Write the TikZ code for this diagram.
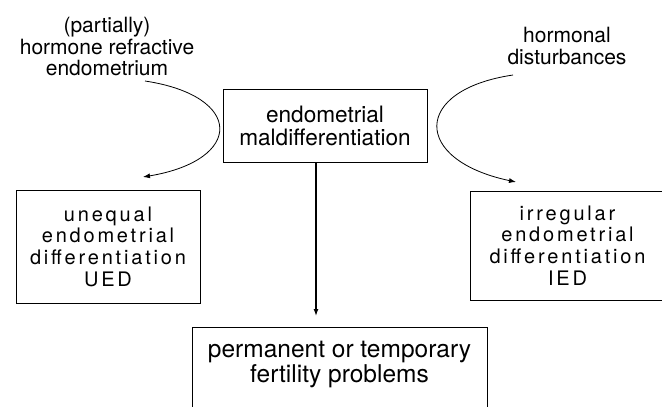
\documentclass[tikz,border=0pt]{standalone}
\usepackage{fontspec}
\setmainfont{TeX Gyre Heros}
\newfontfamily\widefont[LetterSpace=14]{TeX Gyre Heros}
\usetikzlibrary{arrows.meta}
\begin{document}
\begin{tikzpicture}
  [x=1pt, y=-1pt]
  \tikzstyle{box} = [draw=black, line width=0.8pt, align=center, inner sep=0pt];
  \tikzstyle{top_text} = [align=center, font=\fontsize{21}{21.5}\selectfont];
  \tikzstyle{wide_box} = [box, font=\fontsize{20}{21.7}\widefont];
  \tikzstyle{arrow} = [-{Latex[length=7pt,width=5pt]}, line width=0.8pt];

  \useasboundingbox (0,0) rectangle (662,407);

  \node[top_text] (refr) at (107, 47) {(partially)\\hormone refractive\\endometrium};
  \node[top_text] (horm) at (567, 46) {hormonal\\disturbances};

  \node[box, minimum width=204, minimum height=73, font=\fontsize{22.6}{23}\selectfont]
    (mdiff) at (325, 125.5) {endometrial\\maldifferentiation};

  \node[wide_box, minimum width=184, minimum height=113]
    (ued) at (108, 246.5) {unequal\\endometrial\\differentiation\\UED};
  \node[wide_box, minimum width=195, minimum height=109]
    (ied) at (567.5, 245.5) {irregular\\endometrial\\differentiation\\IED};

  \node[box, anchor=north, minimum width=295, inner ysep=14, text depth=70,
    font=\fontsize{24.5}{25}\selectfont]
    (fert) at (339.5, 327) {permanent or temporary\\fertility problems};

  \coordinate (refr_end) at (145, 81);
  \coordinate (ued_tip) at (143, 177);
  \coordinate (horm_end) at (513, 75);
  \coordinate (ied_tip) at (516, 182);
  \coordinate (fert_tip) at (316, 316);

  \draw[arrow] (refr_end) .. controls (244, 96) and (244, 160) .. (ued_tip);
  \draw[arrow] (horm_end) .. controls (412, 90) and (412, 160) .. (ied_tip);
  \draw[arrow, line width=1.3pt] (mdiff.south -| fert_tip) -- (fert_tip);

\end{tikzpicture}
\end{document}
